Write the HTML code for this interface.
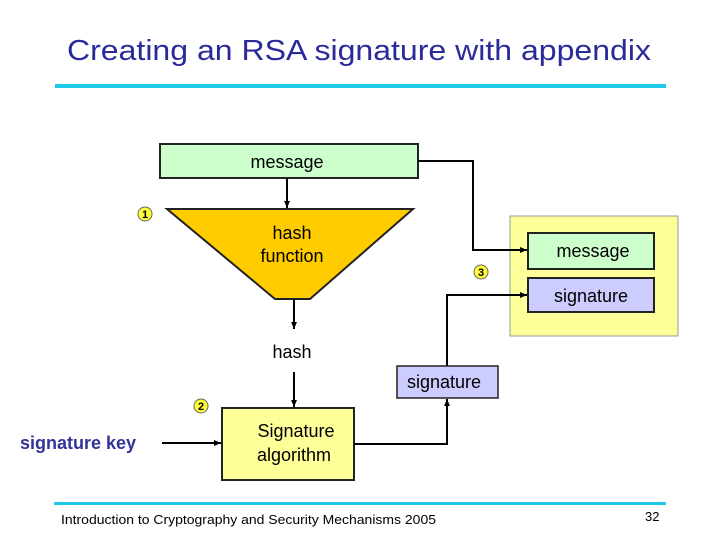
<!DOCTYPE html>
<html><head><meta charset="utf-8"><style>
body{margin:0;background:#fff;}
svg{display:block;font-family:"Liberation Sans",Arial,sans-serif;}
</style></head><body>
<svg width="720" height="540" viewBox="0 0 720 540" xmlns="http://www.w3.org/2000/svg">
<defs><marker id="a" markerWidth="8" markerHeight="8" refX="7" refY="4" orient="auto" markerUnits="userSpaceOnUse"><path d="M0,1 L7,4 L0,7 z" fill="#000"/></marker></defs>
<text x="67" y="60" font-size="29" fill="#2a2a9a" textLength="584" lengthAdjust="spacingAndGlyphs">Creating an RSA signature with appendix</text>
<rect x="55" y="84" width="611" height="4" fill="#1ec8e8"/>
<rect x="510" y="216" width="168" height="120" fill="#ffff99" stroke="#999" stroke-width="1"/>
<rect x="160" y="144" width="258" height="34" fill="#ccffcc" stroke="#222" stroke-width="2"/>
<text x="287" y="168" font-size="18" text-anchor="middle">message</text>
<polyline points="418,161 473,161 473,250 527,250" fill="none" stroke="#000" stroke-width="2" marker-end="url(#a)"/>
<rect x="528" y="233" width="126" height="36" fill="#ccffcc" stroke="#222" stroke-width="2"/>
<text x="593" y="257" font-size="18" text-anchor="middle">message</text>
<rect x="528" y="278" width="126" height="34" fill="#ccccff" stroke="#222" stroke-width="2"/>
<text x="591" y="302" font-size="18" text-anchor="middle">signature</text>
<polyline points="447,366 447,295 527,295" fill="none" stroke="#000" stroke-width="2" marker-end="url(#a)"/>
<polygon points="167,209 413,209 310,299 275,299" fill="#ffcc00" stroke="#222" stroke-width="2"/>
<text x="292" y="239" font-size="18" text-anchor="middle">hash</text>
<text x="292" y="262" font-size="18" text-anchor="middle">function</text>
<line x1="287" y1="178" x2="287" y2="208" stroke="#000" stroke-width="2" marker-end="url(#a)"/>
<line x1="294" y1="300" x2="294" y2="329" stroke="#000" stroke-width="2" marker-end="url(#a)"/>
<text x="292" y="358" font-size="18" text-anchor="middle">hash</text>
<line x1="294" y1="372" x2="294" y2="407" stroke="#000" stroke-width="2" marker-end="url(#a)"/>
<g font-size="11" font-weight="bold" text-anchor="middle">
<circle cx="145" cy="214" r="7" fill="#ffff33" stroke="#666"/><text x="145" y="218">1</text>
<circle cx="481" cy="272" r="7" fill="#ffff33" stroke="#666"/><text x="481" y="276">3</text>
<circle cx="201" cy="406" r="7" fill="#ffff33" stroke="#666"/><text x="201" y="410">2</text>
</g>
<rect x="222" y="408" width="132" height="72" fill="#ffff99" stroke="#222" stroke-width="2"/>
<text x="296" y="437" font-size="18" text-anchor="middle">Signature</text>
<text x="294" y="461" font-size="18" text-anchor="middle">algorithm</text>
<rect x="397" y="366" width="101" height="32" fill="#ccccff" stroke="#222" stroke-width="1.5"/>
<text x="444" y="388" font-size="18" text-anchor="middle">signature</text>
<polyline points="354,444 447,444 447,399" fill="none" stroke="#000" stroke-width="2" marker-end="url(#a)"/>
<text x="20" y="449" font-size="18" font-weight="bold" fill="#333399">signature key</text>
<line x1="162" y1="443" x2="221" y2="443" stroke="#000" stroke-width="2" marker-end="url(#a)"/>
<rect x="54" y="502" width="612" height="3" fill="#1ec8e8"/>
<text x="61" y="524" font-size="13" textLength="375" lengthAdjust="spacingAndGlyphs">Introduction to Cryptography and Security Mechanisms 2005</text>
<text x="645" y="521" font-size="13">32</text>
</svg>
</body></html>
